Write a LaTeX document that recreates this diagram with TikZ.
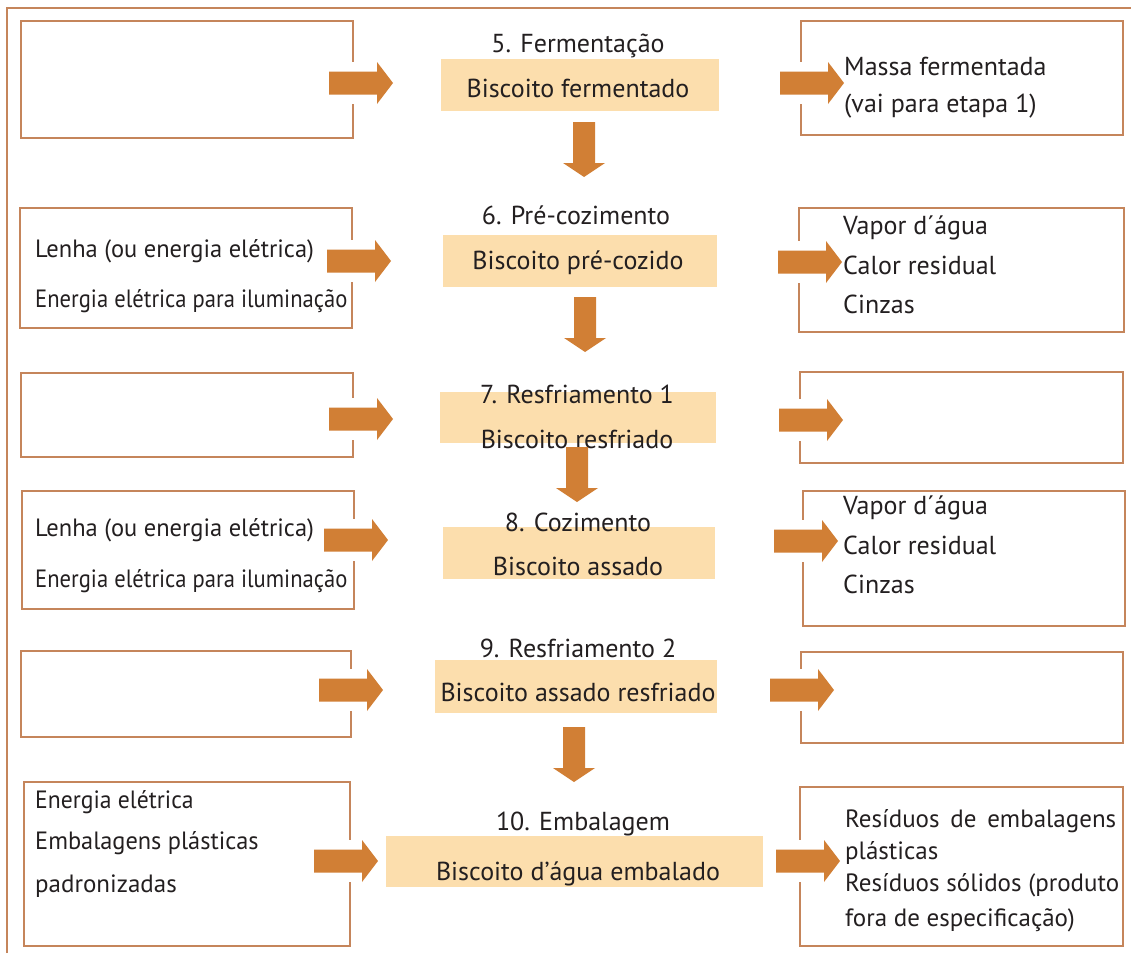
\documentclass[tikz,border=0pt]{standalone}
\usepackage{fontspec}
\setmainfont{PT Sans}
\definecolor{framecol}{RGB}{197,133,91}
\definecolor{arrowcol}{RGB}{209,127,53}
\definecolor{beige}{RGB}{252,222,173}
\definecolor{textcol}{RGB}{35,31,32}
\begin{document}
\begin{tikzpicture}[x=1pt,y=-1pt,
  sidebox/.style={draw=framecol, line width=2pt, inner sep=0pt, outer sep=0pt, anchor=north west},
  stepbox/.style={fill=beige, inner sep=0pt, outer sep=0pt, anchor=north west},
  txt/.style={text=textcol, inner sep=0pt, anchor=base west, font=\fontsize{25}{30}\selectfont},
  bigtxt/.style={txt, font=\fontsize{26}{31}\selectfont},
  ttl/.style={bigtxt, anchor=base},
  pics/rarrow/.style={code={
    \fill[white] (0,-21) rectangle (64,21);
    \fill[arrowcol] (0,-11.5) -- (48,-11.5) -- (48,-21) -- (64,0) -- (48,21) -- (48,11.5) -- (0,11.5) -- cycle;}},
  pics/darrow/.style={code={
    \fill[arrowcol] (-11,0) -- (11,0) -- (11,41) -- (21,41) -- (0,55) -- (-21,41) -- (-11,41) -- cycle;}}
]
\useasboundingbox (0,0) rectangle (1131,953);
% outer frame
\draw[framecol, line width=2pt] (7,953) -- (7,8) -- (1131,8);
% side boxes
\node[sidebox, minimum width=332, minimum height=117] (L1) at (21,21) {};
\node[sidebox, minimum width=332, minimum height=120] (L2) at (20,208) {};
\node[sidebox, minimum width=332, minimum height=84] (L3) at (21,373) {};
\node[sidebox, minimum width=332, minimum height=118] (L4) at (22,491) {};
\node[sidebox, minimum width=330, minimum height=86] (L5) at (21,651) {};
\node[sidebox, minimum width=326, minimum height=164] (L6) at (24,782) {};
\node[sidebox, minimum width=322, minimum height=114] (R1) at (801,21) {};
\node[sidebox, minimum width=325, minimum height=124] (R2) at (799,208) {};
\node[sidebox, minimum width=323, minimum height=91] (R3) at (800,372) {};
\node[sidebox, minimum width=322, minimum height=135] (R4) at (803,491) {};
\node[sidebox, minimum width=322, minimum height=91] (R5) at (801,652) {};
\node[sidebox, minimum width=323, minimum height=159] (R6) at (800,787) {};
% step boxes
\node[stepbox, minimum width=278, minimum height=52] (C1) at (441,59) {};
\node[stepbox, minimum width=274, minimum height=52] (C2) at (443,235) {};
\node[stepbox, minimum width=276, minimum height=51] (C3) at (440,392) {};
\node[stepbox, minimum width=272, minimum height=52] (C4) at (443,527) {};
\node[stepbox, minimum width=282, minimum height=53] (C5) at (435,660) {};
\node[stepbox, minimum width=377, minimum height=51] (C6) at (386,836) {};
% horizontal arrows
\pic (a1l) at (329,83) {rarrow};
\pic (a1r) at (780,83) {rarrow};
\pic (a2l) at (327,261) {rarrow};
\pic (a2r) at (778,262) {rarrow};
\pic (a3l) at (329,419) {rarrow};
\pic (a3r) at (779,420) {rarrow};
\pic (a4l) at (324,540) {rarrow};
\pic (a4r) at (774,541) {rarrow};
\pic (a5l) at (319,690) {rarrow};
\pic (a5r) at (770,690) {rarrow};
\pic (a6l) at (314,861) {rarrow};
\pic (a6r) at (776,861) {rarrow};
% titles and step texts
\node[ttl] (t5) at (578,52) {5. Fermentação};
\node[ttl] (s5) at (578,97) {Biscoito fermentado};
\node[ttl] (t6) at (576,224) {6. Pré-cozimento};
\node[ttl] (s6) at (578,269) {Biscoito pré-cozido};
\node[ttl] (t7) at (577,403) {7. Resfriamento 1};
\node[ttl] (s7) at (577,448) {Biscoito resfriado};
\node[ttl] (t8) at (578,531) {8. Cozimento};
\node[ttl] (s8) at (578,575) {Biscoito assado};
\node[ttl] (t9) at (578,657) {9. Resfriamento 2};
\node[ttl] (s9) at (578,701) {Biscoito assado resfriado};
\node[ttl] (t10) at (583,830) {10. Embalagem};
\node[ttl] (s10) at (578,880) {Biscoito d’água embalado};
% side texts
\node[bigtxt] (r1a) at (844,75) {Massa fermentada};
\node[bigtxt] (r1b) at (844,112) {(vai para etapa 1)};
\node[txt] (l2a) at (35,257) {\scalebox{0.979}[1]{Lenha (ou energia elétrica)}};
\node[txt] (l2b) at (35,307) {\scalebox{0.904}[1]{Energia elétrica para iluminação}};
\node[bigtxt] (r2a) at (843,234) {Vapor d´água};
\node[bigtxt] (r2b) at (843,274) {Calor residual};
\node[bigtxt] (r2c) at (843,313) {Cinzas};
\node[txt] (l4a) at (35,536) {\scalebox{0.979}[1]{Lenha (ou energia elétrica)}};
\node[txt] (l4b) at (35,587) {\scalebox{0.904}[1]{Energia elétrica para iluminação}};
\node[bigtxt] (r4a) at (843,514) {Vapor d´água};
\node[bigtxt] (r4b) at (843,554) {Calor residual};
\node[bigtxt] (r4c) at (843,593) {Cinzas};
\node[txt] (l6a) at (35,808) {\scalebox{0.946}[1]{Energia elétrica}};
\node[txt] (l6b) at (35,849) {\scalebox{0.974}[1]{Embalagens plásticas}};
\node[txt] (l6c) at (35,892) {padronizadas};
\node[txt] (r6a) at (845,827) {\makebox[271pt][s]{Resíduos de embalagens}};
\node[txt] (r6b) at (845,859) {plásticas};
\node[txt] (r6c) at (845,891) {Resíduos sólidos (produto};
\node[txt] (r6d) at (845,926) {fora de especificação)};
% downward arrows
\pic (d1) at (584,122) {darrow};
\pic (d2) at (585,297) {darrow};
\pic (d3) at (577,447) {darrow};
\pic (d4) at (574,727) {darrow};
\end{tikzpicture}
\end{document}
